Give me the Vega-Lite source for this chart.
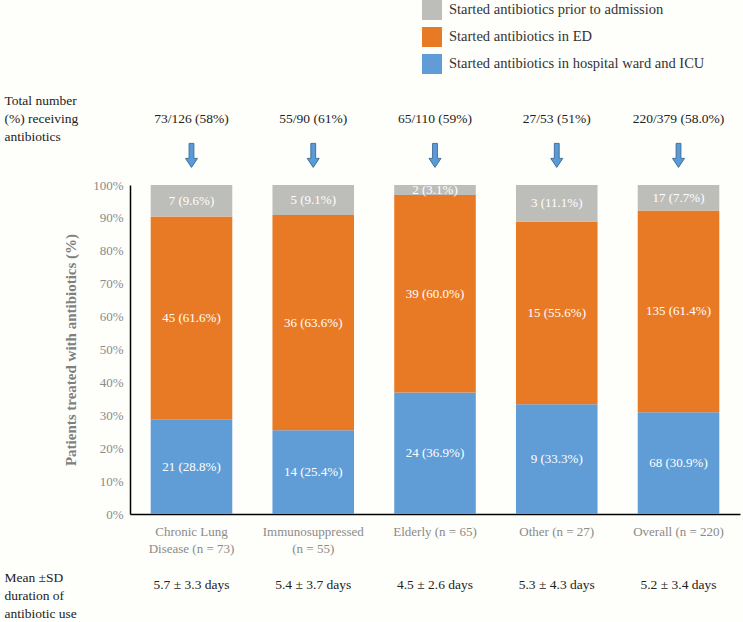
{
  "$schema": "https://vega.github.io/schema/vega-lite/v6.json",
  "width": 610,
  "height": 329,
  "autosize": "none",
  "padding": {"left": 130, "top": 185, "right": 3, "bottom": 108},
  "background": "#FEFEFB",
  "config": {
    "font": "Liberation Serif",
    "text": {"font": "Liberation Serif"},
    "legend": {"labelFont": "Liberation Serif", "titleFont": "Liberation Serif"},
    "view": {"stroke": null},
    "axisX": {
      "title": null, "labelAngle": 0, "ticks": false, "domainColor": "#000000", "domainWidth": 1.5,
      "labelColor": "#8a8a8a", "labelFontSize": 13, "labelPadding": 11, "labelLineHeight": 17,
      "labelFont": "Liberation Serif", "labelExpr": "split(datum.value, '|')"
    },
    "axisY": {
      "format": ".0%", "values": [0, 0.1, 0.2, 0.3, 0.4, 0.5, 0.6, 0.7, 0.8, 0.9, 1],
      "grid": false, "ticks": false, "domainColor": "#000000", "domainWidth": 1.5,
      "labelColor": "#8a8a8a", "labelFontSize": 13, "labelPadding": 7, "labelFont": "Liberation Serif",
      "titleColor": "#7f7f7f", "titleFontSize": 15, "titleFontWeight": "bold", "titlePadding": 14, "titleFont": "Liberation Serif"
    }
  },
  "datasets": {
    "bars": [
      {"cat": "Chronic Lung|Disease (n = 73)", "stage": "Started antibiotics in hospital ward and ICU", "k": 1, "n": 21, "label": "21 (28.8%)"},
      {"cat": "Chronic Lung|Disease (n = 73)", "stage": "Started antibiotics in ED", "k": 2, "n": 45, "label": "45 (61.6%)"},
      {"cat": "Chronic Lung|Disease (n = 73)", "stage": "Started antibiotics prior to admission", "k": 3, "n": 7, "label": "7 (9.6%)"},
      {"cat": "Immunosuppressed|(n = 55)", "stage": "Started antibiotics in hospital ward and ICU", "k": 1, "n": 14, "label": "14 (25.4%)"},
      {"cat": "Immunosuppressed|(n = 55)", "stage": "Started antibiotics in ED", "k": 2, "n": 36, "label": "36 (63.6%)"},
      {"cat": "Immunosuppressed|(n = 55)", "stage": "Started antibiotics prior to admission", "k": 3, "n": 5, "label": "5 (9.1%)"},
      {"cat": "Elderly (n = 65)", "stage": "Started antibiotics in hospital ward and ICU", "k": 1, "n": 24, "label": "24 (36.9%)"},
      {"cat": "Elderly (n = 65)", "stage": "Started antibiotics in ED", "k": 2, "n": 39, "label": "39 (60.0%)"},
      {"cat": "Elderly (n = 65)", "stage": "Started antibiotics prior to admission", "k": 3, "n": 2, "label": "2 (3.1%)"},
      {"cat": "Other (n = 27)", "stage": "Started antibiotics in hospital ward and ICU", "k": 1, "n": 9, "label": "9 (33.3%)"},
      {"cat": "Other (n = 27)", "stage": "Started antibiotics in ED", "k": 2, "n": 15, "label": "15 (55.6%)"},
      {"cat": "Other (n = 27)", "stage": "Started antibiotics prior to admission", "k": 3, "n": 3, "label": "3 (11.1%)"},
      {"cat": "Overall (n = 220)", "stage": "Started antibiotics in hospital ward and ICU", "k": 1, "n": 68, "label": "68 (30.9%)"},
      {"cat": "Overall (n = 220)", "stage": "Started antibiotics in ED", "k": 2, "n": 135, "label": "135 (61.4%)"},
      {"cat": "Overall (n = 220)", "stage": "Started antibiotics prior to admission", "k": 3, "n": 17, "label": "17 (7.7%)"}
    ],
    "groups": [
      {"cat": "Chronic Lung|Disease (n = 73)", "ratio": "73/126 (58%)", "dur": "5.7 ± 3.3 days"},
      {"cat": "Immunosuppressed|(n = 55)", "ratio": "55/90 (61%)", "dur": "5.4 ± 3.7 days"},
      {"cat": "Elderly (n = 65)", "ratio": "65/110 (59%)", "dur": "4.5 ± 2.6 days"},
      {"cat": "Other (n = 27)", "ratio": "27/53 (51%)", "dur": "5.3 ± 4.3 days"},
      {"cat": "Overall (n = 220)", "ratio": "220/379 (58.0%)", "dur": "5.2 ± 3.4 days"}
    ],
    "headers": [
      {"row": "top", "txt": "Total number\n(%) receiving\nantibiotics"},
      {"row": "bottom", "txt": "Mean ±SD\nduration of\nantibiotic use"}
    ]
  },
  "layer": [
    {
      "data": {"name": "bars"},
      "mark": {"type": "bar"},
      "encoding": {
        "x": {
          "field": "cat", "type": "nominal", "sort": null, "title": null,
          "scale": {"paddingInner": 0.33, "paddingOuter": 0.17}
        },
        "y": {
          "field": "n", "type": "quantitative", "stack": "normalize",
          "title": "Patients treated with antibiotics (%)",
          "scale": {"domain": [0, 1], "nice": false}
        },
        "color": {
          "field": "stage", "type": "nominal",
          "scale": {
            "domain": ["Started antibiotics prior to admission", "Started antibiotics in ED", "Started antibiotics in hospital ward and ICU"],
            "range": ["#BDBDB9", "#E97A25", "#609DD6"]
          },
          "legend": {
            "title": null, "orient": "none", "legendX": 292, "legendY": -185, "padding": 0,
            "symbolType": "square", "symbolSize": 400, "symbolStrokeWidth": 0, "symbolOpacity": 1,
            "labelFontSize": 14.5, "labelColor": "#333333", "labelOffset": 7, "rowPadding": 7,
            "labelLimit": 400, "labelFont": "Liberation Serif"
          }
        },
        "order": {"field": "k", "type": "quantitative", "sort": "ascending"}
      }
    },
    {
      "data": {"name": "bars"},
      "mark": {"type": "text", "color": "#FFFFFF", "fontSize": 13, "baseline": "middle", "font": "Liberation Serif"},
      "encoding": {
        "x": {"field": "cat", "type": "nominal", "sort": null, "title": null},
        "y": {"field": "n", "type": "quantitative", "stack": "normalize", "bandPosition": 0.5, "title": "Patients treated with antibiotics (%)"},
        "detail": {"field": "stage", "type": "nominal"},
        "order": {"field": "k", "type": "quantitative", "sort": "ascending"},
        "text": {"field": "label", "type": "nominal"}
      }
    },
    {
      "data": {"name": "groups"},
      "mark": {"type": "text", "color": "#222222", "fontSize": 13.5, "baseline": "middle", "font": "Liberation Serif"},
      "encoding": {
        "x": {"field": "cat", "type": "nominal", "sort": null, "title": null},
        "y": {"datum": 1.2, "type": "quantitative", "title": "Patients treated with antibiotics (%)"},
        "text": {"field": "ratio", "type": "nominal"}
      }
    },
    {
      "data": {"name": "groups"},
      "mark": {
        "type": "point", "filled": true, "fill": "#5B9BD5", "stroke": "#41719C", "strokeWidth": 1, "opacity": 1,
        "shape": "M-0.2,-1L0.2,-1L0.2,0.25L0.5,0.25L0,1L-0.5,0.25L-0.2,0.25Z", "size": 576
      },
      "encoding": {
        "x": {"field": "cat", "type": "nominal", "sort": null, "title": null},
        "y": {"datum": 1.09, "type": "quantitative", "title": "Patients treated with antibiotics (%)"}
      }
    },
    {
      "data": {"name": "groups"},
      "mark": {"type": "text", "color": "#222222", "fontSize": 13.5, "baseline": "middle", "font": "Liberation Serif"},
      "encoding": {
        "x": {"field": "cat", "type": "nominal", "sort": null, "title": null},
        "y": {"datum": -0.216, "type": "quantitative", "title": "Patients treated with antibiotics (%)"},
        "text": {"field": "dur", "type": "nominal"}
      }
    },
    {
      "data": {"name": "headers"},
      "transform": [{"filter": "datum.row == 'top'"}],
      "mark": {"type": "text", "color": "#222222", "fontSize": 13.5, "align": "left", "baseline": "middle", "lineBreak": "\n", "lineHeight": 18, "dx": -187, "font": "Liberation Serif"},
      "encoding": {
        "x": {"datum": "Chronic Lung|Disease (n = 73)", "type": "nominal", "title": null},
        "y": {"datum": 1.255, "type": "quantitative", "title": "Patients treated with antibiotics (%)"},
        "text": {"field": "txt", "type": "nominal"}
      }
    },
    {
      "data": {"name": "headers"},
      "transform": [{"filter": "datum.row == 'bottom'"}],
      "mark": {"type": "text", "color": "#222222", "fontSize": 13.5, "align": "left", "baseline": "middle", "lineBreak": "\n", "lineHeight": 18, "dx": -187, "font": "Liberation Serif"},
      "encoding": {
        "x": {"datum": "Chronic Lung|Disease (n = 73)", "type": "nominal", "title": null},
        "y": {"datum": -0.1945, "type": "quantitative", "title": "Patients treated with antibiotics (%)"},
        "text": {"field": "txt", "type": "nominal"}
      }
    }
  ]
}
